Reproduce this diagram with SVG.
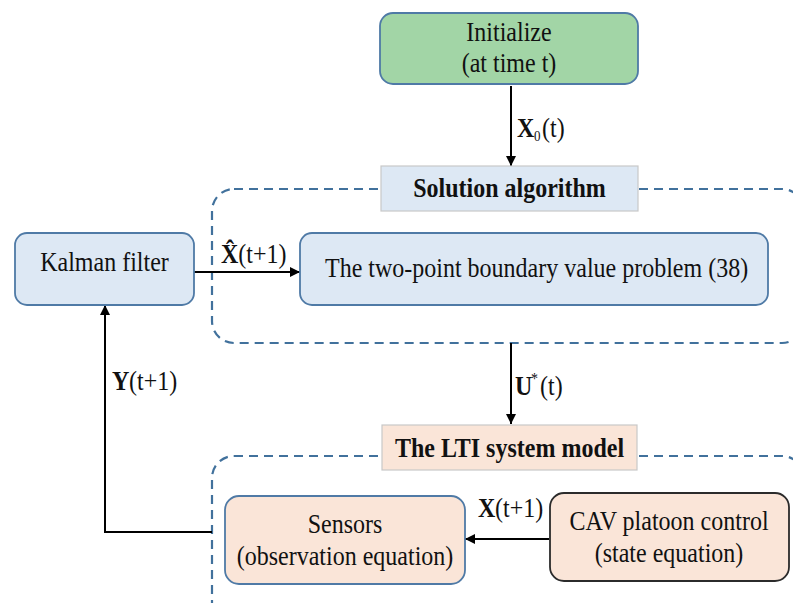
<svg xmlns="http://www.w3.org/2000/svg" width="793" height="603" viewBox="0 0 793 603">
  <defs>
    <marker id="arrow" viewBox="0 0 10 10" refX="10" refY="5" markerWidth="5" markerHeight="5" orient="auto" markerUnits="strokeWidth">
      <path d="M0,0 L10,5 L0,10 z" fill="#000"/>
    </marker>
    <style>
      .t { font-family: "Liberation Serif", serif; font-size: 24px; fill: #111; }
      .c { text-anchor: middle; }
      .b { font-weight: bold; }
      .box { stroke: #4f7aa6; stroke-width: 1.8; }
      .blue { fill: #dde8f4; }
      .peach { fill: #fae5d8; }
      .tag { stroke: #c8c8c8; stroke-width: 1.2; }
      .dash { fill: none; stroke: #41719c; stroke-width: 2.2; stroke-dasharray: 9 6; }
      .wire { fill: none; stroke: #000; stroke-width: 2; }
    </style>
  </defs>

  <!-- dashed group outlines -->
  <g id="groups">
    <rect class="dash" x="212" y="189" width="592" height="154" rx="22"/>
    <rect class="dash" x="212" y="456" width="592" height="170" rx="22"/>
  </g>

  <!-- connectors -->
  <g id="connectors">
    <line class="wire" x1="511" y1="86" x2="511" y2="166" marker-end="url(#arrow)"/>
    <line class="wire" x1="194" y1="272" x2="300" y2="272" marker-end="url(#arrow)"/>
    <line class="wire" x1="511" y1="343" x2="511" y2="424" marker-end="url(#arrow)"/>
    <line class="wire" x1="549" y1="539" x2="465" y2="539" marker-end="url(#arrow)"/>
    <polyline class="wire" points="212,532 105,532 105,305" marker-end="url(#arrow)"/>

    <!-- connector labels -->
    <g id="label-x0">
      <text class="t b" transform="translate(517 137) scale(1 1.15)">X</text>
      <text class="t" style="font-size:13px" transform="translate(534 141) scale(1 1.15)">0</text>
      <text class="t" transform="translate(542 137) scale(1 1.15)">(t)</text>
    </g>
    <g id="label-xhat">
      <text class="t" transform="translate(221 263) scale(1 1.15)"><tspan class="b">X&#x302;</tspan>(t+1)</text>
    </g>
    <g id="label-u">
      <text class="t b" transform="translate(515 395) scale(1 1.15)">U</text>
      <text class="t" style="font-size:14px" transform="translate(531 384) scale(1 1.15)">*</text>
      <text class="t" transform="translate(540 395) scale(1 1.15)">(t)</text>
    </g>
    <g id="label-x">
      <text class="t b" transform="translate(478 517) scale(1 1.15)">X</text>
      <text class="t" transform="translate(495 517) scale(1 1.15)">(t+1)</text>
    </g>
    <g id="label-y">
      <text class="t b" transform="translate(112 390) scale(1 1.15)">Y</text>
      <text class="t" transform="translate(129 390) scale(1 1.15)">(t+1)</text>
    </g>
  </g>

  <!-- nodes -->
  <g id="initialize">
    <rect class="box" x="380" y="13" width="258" height="71" rx="13" fill="#a2d5a6"/>
    <text class="t c" transform="translate(509 41) scale(1 1.15)">Initialize</text>
    <text class="t c" transform="translate(509 72) scale(1 1.15)">(at time t)</text>
  </g>

  <g id="solution-algorithm">
    <rect class="tag blue" x="381" y="166" width="257" height="45"/>
    <text class="t c b" transform="translate(509.5 197) scale(1 1.15)">Solution algorithm</text>
  </g>

  <g id="kalman-filter">
    <rect class="box blue" x="15" y="233" width="179" height="72" rx="12"/>
    <text class="t c" transform="translate(104.5 271) scale(1 1.15)">Kalman filter</text>
  </g>

  <g id="boundary-value-problem">
    <rect class="box blue" x="300" y="233" width="468" height="72" rx="12"/>
    <text class="t" transform="translate(325 277) scale(1 1.15)">The two-point boundary value problem (38)</text>
  </g>

  <g id="lti-system-model">
    <rect class="tag peach" x="382" y="425" width="255" height="45"/>
    <text class="t c b" transform="translate(509.5 457) scale(1 1.15)">The LTI system model</text>
  </g>

  <g id="sensors">
    <rect class="box peach" x="225" y="496" width="240" height="88" rx="14"/>
    <text class="t c" transform="translate(345 533) scale(1 1.15)">Sensors</text>
    <text class="t c" transform="translate(345 565) scale(1 1.15)">(observation equation)</text>
  </g>

  <g id="cav-platoon-control">
    <rect x="550" y="493" width="239" height="88" rx="14" fill="#fae5d8" stroke="#2b2b2b" stroke-width="1.8"/>
    <text class="t c" transform="translate(669 530) scale(1 1.15)">CAV platoon control</text>
    <text class="t c" transform="translate(669 562) scale(1 1.15)">(state equation)</text>
  </g>
</svg>
